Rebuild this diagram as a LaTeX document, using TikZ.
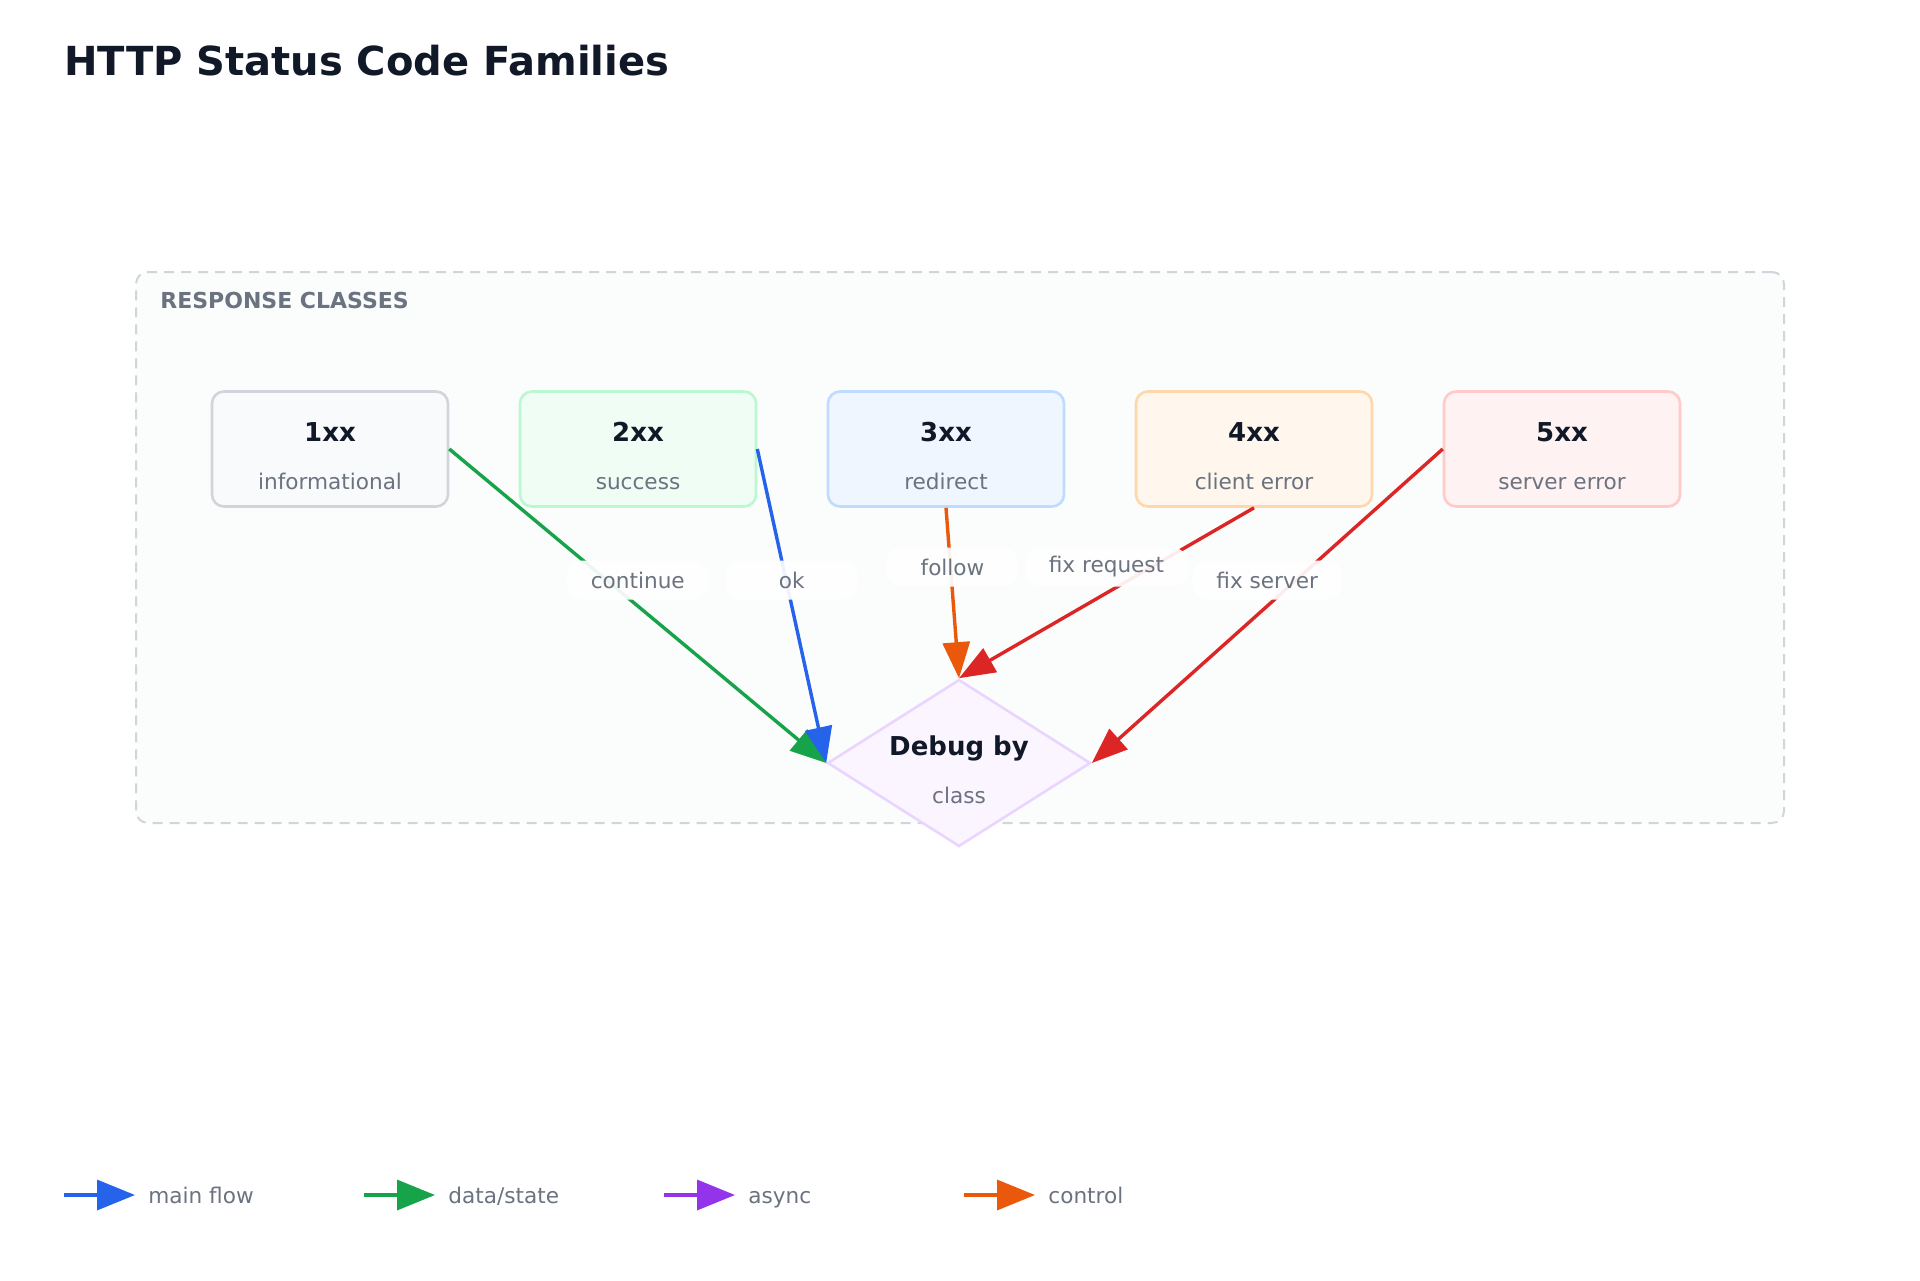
\documentclass[tikz,border=0pt]{standalone}
\usepackage{fontspec}
\setmainfont{DejaVu Sans}
\usetikzlibrary{arrows.meta,positioning,shapes.geometric}

\definecolor{ink}{HTML}{111827}
\definecolor{muted}{HTML}{6B7280}
\definecolor{frame}{HTML}{D1D5DB}
\definecolor{panel}{HTML}{FBFCFC}
\definecolor{grayfill}{HTML}{F9FAFB}
\definecolor{grayline}{HTML}{D1D5DB}
\definecolor{greenfill}{HTML}{F0FDF4}
\definecolor{greenline}{HTML}{BBF7D0}
\definecolor{bluefill}{HTML}{EFF6FF}
\definecolor{blueline}{HTML}{BFDBFE}
\definecolor{orangefill}{HTML}{FFF7ED}
\definecolor{orangeline}{HTML}{FED7AA}
\definecolor{redfill}{HTML}{FEF2F2}
\definecolor{redline}{HTML}{FECACA}
\definecolor{purplefill}{HTML}{FAF5FF}
\definecolor{purpleline}{HTML}{E9D5FF}
\definecolor{mainblue}{HTML}{2563EB}
\definecolor{datagreen}{HTML}{16A34A}
\definecolor{asyncpurple}{HTML}{9333EA}
\definecolor{ctrlorange}{HTML}{EA580C}
\definecolor{errred}{HTML}{DC2626}

\begin{document}
\begin{tikzpicture}[
    x=0.5pt, y=-0.5pt,
    node distance=34.7pt,
    >={Triangle[length=18pt,width=13.5pt]},
    cls/.style={rectangle,draw,rounded corners=6pt,line width=1.3pt,minimum width=118pt,minimum height=57.5pt},
    dia/.style={diamond,draw=purpleline,fill=purplefill,line width=1.3pt,aspect=1.575,inner sep=0pt,minimum width=131.5pt,minimum height=83.5pt},
    head/.style={font=\fontsize{13}{15}\selectfont\bfseries,text=ink,inner sep=0pt,text height=9.5pt,text depth=0pt},
    sub/.style={font=\fontsize{10.8}{13}\selectfont,text=muted,inner sep=0pt,text height=8.2pt,text depth=0pt},
    lbl/.style={midway,yshift=13pt,fill=white,fill opacity=0.92,text opacity=1,rounded corners=8pt,inner xsep=12pt,inner ysep=0pt,minimum width=66pt,minimum height=19.5pt,font=\fontsize{10.8}{13}\selectfont,text=muted},
    flow/.style={->,line width=1.7pt},
    legline/.style={-{Triangle[length=19pt,width=15pt]},line width=1.7pt}]

    \useasboundingbox (0,0) rectangle (1920,1280);
    \fill[white] (0,0) rectangle (1920,1280);

    \node[anchor=west,inner sep=0pt,font=\fontsize{20}{24}\selectfont\bfseries,text=ink] (title) at (64,61) {HTTP Status Code Families};

    % response classes panel
    \node[draw=frame,fill=panel,dash pattern=on 5pt off 3.5pt,line width=1pt,rounded corners=6pt,minimum width=824pt,minimum height=275.5pt] (grp) at (960,547.5) {};
    \node[anchor=west,inner sep=0pt,font=\fontsize{11}{13}\selectfont\bfseries,text=muted] (grptitle) at (160,300) {RESPONSE CLASSES};

    \node[cls,draw=grayline,fill=grayfill] (b1) at (330,449) {};
    \node[cls,draw=greenline,fill=greenfill,right=of b1] (b2) {};
    \node[cls,draw=blueline,fill=bluefill,right=of b2] (b3) {};
    \node[cls,draw=orangeline,fill=orangefill,right=of b3] (b4) {};
    \node[cls,draw=redline,fill=redfill,right=of b4] (b5) {};
    \node[dia] (dbg) at (959,763) {};

    \node[head] (h1) at ([yshift=8.5pt]b1.center) {1xx};
    \node[sub] (s1) at ([yshift=-16pt]b1.center) {informational};
    \node[head] (h2) at ([yshift=8.5pt]b2.center) {2xx};
    \node[sub] (s2) at ([yshift=-16pt]b2.center) {success};
    \node[head] (h3) at ([yshift=8.5pt]b3.center) {3xx};
    \node[sub] (s3) at ([yshift=-16pt]b3.center) {redirect};
    \node[head] (h4) at ([yshift=8.5pt]b4.center) {4xx};
    \node[sub] (s4) at ([yshift=-16pt]b4.center) {client error};
    \node[head] (h5) at ([yshift=8.5pt]b5.center) {5xx};
    \node[sub] (s5) at ([yshift=-16pt]b5.center) {server error};
    \node[head] (hd) at ([yshift=8.5pt]dbg.center) {Debug by};
    \node[sub] (sd) at ([yshift=-16pt]dbg.center) {class};

    \draw[flow,datagreen] (b1.east) -- node[lbl]{continue} (dbg.west);
    \draw[flow,mainblue] (b2.east) -- node[lbl]{ok} (dbg.west);
    \draw[flow,ctrlorange] (b3.south) -- node[lbl]{follow} (dbg.north);
    \draw[flow,errred] (b4.south) -- node[lbl]{fix request} (dbg.north);
    \draw[flow,errred] (b5.west) -- node[lbl]{fix server} (dbg.east);

    % legend
    \coordinate (l1a) at (64,1195);   \coordinate (l1b) at (135,1195);
    \coordinate (l2a) at (364,1195);  \coordinate (l2b) at (435,1195);
    \coordinate (l3a) at (664,1195);  \coordinate (l3b) at (735,1195);
    \coordinate (l4a) at (964,1195);  \coordinate (l4b) at (1035,1195);
    \draw[legline,mainblue] (l1a) -- (l1b);
    \draw[legline,datagreen] (l2a) -- (l2b);
    \draw[legline,asyncpurple] (l3a) -- (l3b);
    \draw[legline,ctrlorange] (l4a) -- (l4b);
    \node[sub,anchor=west] (k1) at (148,1195) {main flow};
    \node[sub,anchor=west] (k2) at (448,1195) {data/state};
    \node[sub,anchor=west] (k3) at (748,1195) {async};
    \node[sub,anchor=west] (k4) at (1048,1195) {control};
\end{tikzpicture}
\end{document}
